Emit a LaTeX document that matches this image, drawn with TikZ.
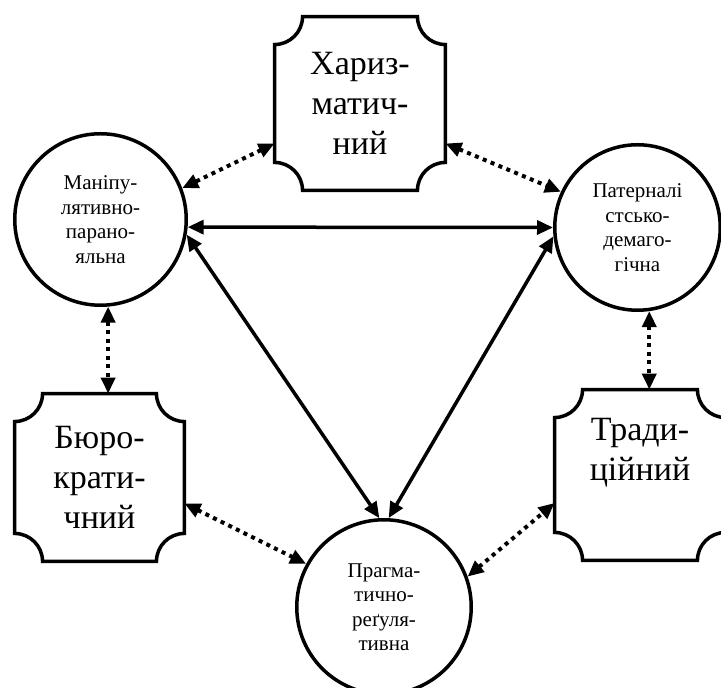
\documentclass[tikz,border=0pt]{standalone}
\usepackage{fontspec}
\setmainfont{Liberation Serif}
\usetikzlibrary{arrows.meta,calc}
\begin{document}
\begin{tikzpicture}[x=1pt,y=1pt,
  circ/.style={circle, draw, line width=3.5pt, inner sep=0pt, align=center,
    font=\fontsize{21}{24.5}\selectfont},
  plaque/.style={rectangle, inner sep=0pt, align=center,
    font=\fontsize{34}{40}\selectfont},
  plaqueline/.style={draw, line width=3.5pt},
  tip/.tip={Triangle[length=16pt,width=14pt]},
  solidarrow/.style={line width=3.5pt, tip-tip},
  dotarrow/.style={line width=4pt, dash pattern=on 4pt off 4.5pt, tip-tip}
]
\useasboundingbox (0,0) rectangle (721,688);
\fill[white] (0,0) rectangle (721,688);

% circles
\node[circ, minimum size=171.5pt] (L) at (100.5,468.5) {Маніпу-\\лятивно-\\парано-\\яльна};
\node[circ, minimum size=165.5pt] (R) at (637.5,460.5) {Патерналі\\стсько-\\демаго-\\гічна};
\node[circ, minimum size=174.5pt] (P) at (384,81) {Прагма-\\тично-\\реґуля-\\тивна};

% plaques
\node[plaque, minimum width=170.5pt, minimum height=173.5pt] (H) at (360,584.5) {Хариз-\\матич-\\ний};
\node[plaque, minimum width=169.5pt, minimum height=167.5pt] (B) at (99.5,210.5) {Бюро-\\крати-\\чний};
\node[plaque, minimum width=170.5pt, minimum height=170.5pt] (T) at (640,213) {Тради-\\ційний\\\strut};

\def\rr{28}
\foreach \n in {H,B,T}{
  \draw[plaqueline]
    ($(\n.north west)+(\rr,0)$) -- ($(\n.north east)+(-\rr,0)$)
    arc[start angle=180,end angle=270,radius=\rr]
    -- ($(\n.south east)+(0,\rr)$)
    arc[start angle=90,end angle=180,radius=\rr]
    -- ($(\n.south west)+(\rr,0)$)
    arc[start angle=0,end angle=90,radius=\rr]
    -- ($(\n.north west)+(0,-\rr)$)
    arc[start angle=270,end angle=360,radius=\rr]
    -- cycle;
}

% solid triangle
\draw[solidarrow] (L.-5) -- (R.west);
\draw[solidarrow] (L.-10) -- (P.93);
\draw[solidarrow] (R.186) -- (P.87);

% dotted links
\draw[dotarrow] ([yshift=-40pt]H.west) -- (L.21);
\draw[dotarrow] ([yshift=-40pt]H.east) -- (R.155);
\draw[dotarrow] (L.-85) -- (L.-85 |- B.north);
\draw[dotarrow] (R.-82) -- (R.-82 |- T.north);
\draw[dotarrow] ([yshift=-26pt]B.east) -- (P.151);
\draw[dotarrow] (P.20) -- ([yshift=-28pt]T.west);
\end{tikzpicture}
\end{document}
